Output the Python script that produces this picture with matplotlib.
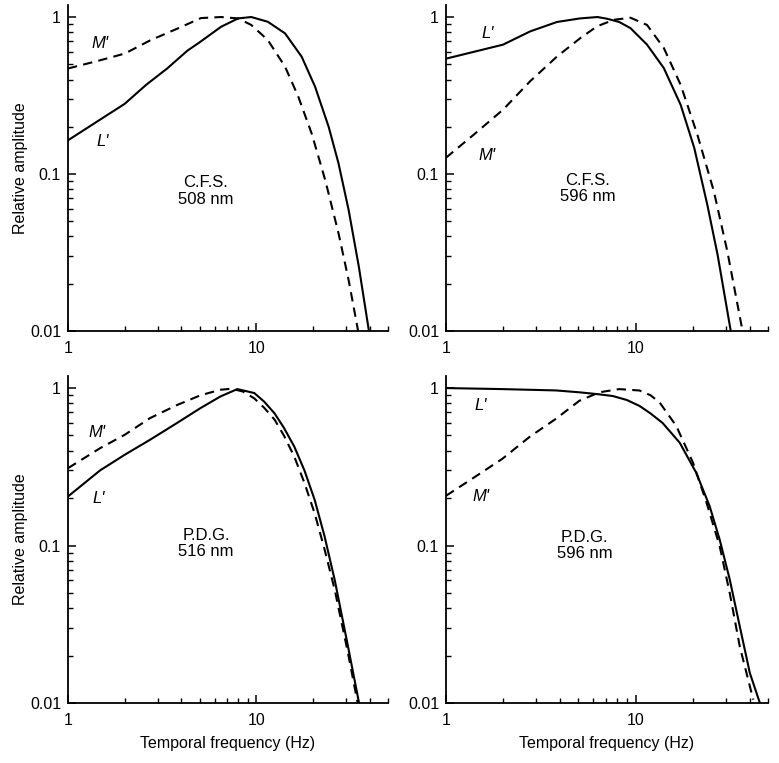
import matplotlib.pyplot as plt
from matplotlib.ticker import LogLocator, NullFormatter, FixedLocator, FixedFormatter

plt.rcParams['font.family'] = ['Liberation Sans', 'DejaVu Sans']

# panel 1: C.F.S. 508 nm
f1_L = [1, 2, 2.6, 3.36, 4.3, 5.08, 6.5, 8.0, 9.4, 11.5, 14.2, 17.4, 20.5, 24.2, 27.3, 30.9, 35, 39.6]
a1_L = [0.164, 0.28, 0.37, 0.47, 0.61, 0.70, 0.867, 0.98, 1.0, 0.933, 0.787, 0.559, 0.36, 0.2, 0.117, 0.059, 0.0257, 0.01]
f1_M = [1, 1.48, 2, 2.73, 3.95, 5.08, 6.5, 8.0, 9.4, 11.5, 14.2, 16.7, 19.7, 23.2, 27.3, 30.9, 34.7]
a1_M = [0.47, 0.53, 0.585, 0.71, 0.86, 0.985, 1.0, 0.98, 0.89, 0.714, 0.483, 0.311, 0.18, 0.0916, 0.042, 0.0211, 0.01]

# panel 2: C.F.S. 596 nm
f2_L = [1, 2, 2.78, 3.85, 5.1, 6.3, 7.08, 8.2, 9.4, 11.5, 14.1, 17.3, 20.4, 23.9, 27.1, 31.8]
a2_L = [0.543, 0.667, 0.81, 0.93, 0.98, 1.0, 0.975, 0.93, 0.85, 0.667, 0.473, 0.276, 0.147, 0.064, 0.0306, 0.01]
f2_M = [1, 1.4, 2, 2.78, 3.85, 5.12, 6.27, 7.68, 9.4, 11.5, 14.1, 17.3, 21.2, 25.9, 30.5, 36.7]
a2_M = [0.127, 0.178, 0.257, 0.39, 0.56, 0.735, 0.873, 0.96, 0.99, 0.89, 0.635, 0.37, 0.178, 0.0776, 0.0322, 0.01]

# panel 3: P.D.G. 516 nm
f3_L = [1, 1.48, 2, 2.73, 3.79, 5.05, 6.45, 7.93, 9.75, 11, 12.5, 14, 15.9, 18, 20.4, 23, 26.1, 30.7, 35.1]
a3_L = [0.205, 0.30, 0.377, 0.47, 0.60, 0.746, 0.885, 0.985, 0.93, 0.82, 0.69, 0.56, 0.425, 0.3, 0.195, 0.115, 0.06, 0.0227, 0.01]
f3_M = [1, 1.48, 2, 2.73, 3.79, 5.05, 6.45, 7.4, 8.5, 9.75, 11, 12.5, 14, 15.9, 18, 20.4, 23, 26.1, 30.7, 34.5]
a3_M = [0.31, 0.415, 0.505, 0.645, 0.78, 0.90, 0.976, 0.99, 0.95, 0.86, 0.75, 0.63, 0.5, 0.367, 0.25, 0.16, 0.095, 0.052, 0.0206, 0.01]

# panel 4: P.D.G. 596 nm
f4_L = [1, 1.98, 3.8, 5.05, 6.3, 7.59, 9, 10.5, 12, 13.9, 17.1, 20.9, 24.6, 27.8, 31.4, 35.5, 40.1, 45.3]
a4_L = [1.0, 0.985, 0.966, 0.94, 0.915, 0.89, 0.84, 0.77, 0.69, 0.60, 0.45, 0.29, 0.178, 0.109, 0.061, 0.0306, 0.0155, 0.01]
f4_M = [1, 1.37, 1.98, 2.75, 3.8, 5.05, 6.45, 8.2, 10.5, 12, 13.4, 16.4, 20.1, 23.7, 27.8, 31.4, 35.5, 41.8]
a4_M = [0.207, 0.265, 0.355, 0.488, 0.638, 0.83, 0.94, 0.985, 0.965, 0.9, 0.81, 0.575, 0.336, 0.187, 0.099, 0.05, 0.0228, 0.0105]

panels = [
    (f1_L, a1_L, f1_M, a1_M, 'C.F.S.\n508 nm', (5.4, 0.078), (1.48, 0.68), (1.52, 0.16)),
    (f2_L, a2_L, f2_M, a2_M, 'C.F.S.\n596 nm', (5.57, 0.081), (1.65, 0.132), (1.65, 0.79)),
    (f3_L, a3_L, f3_M, a3_M, 'P.D.G.\n516 nm', (5.4, 0.103), (1.43, 0.52), (1.45, 0.20)),
    (f4_L, a4_L, f4_M, a4_M, 'P.D.G.\n596 nm', (5.37, 0.100), (1.53, 0.205), (1.53, 0.77)),
]

W, H = 779, 763
fig = plt.figure(figsize=(W / 100, H / 100), dpi=100)

rects = [
    (68, 4.6, 320, 326.4),
    (446, 4.6, 322, 326.4),
    (68, 375.6, 320, 327.4),
    (446, 375.6, 322, 327.4),
]

for i, (fl, al, fm, am, txt, tpos, mpos, lpos) in enumerate(panels):
    x, y, w, h = rects[i]
    ax = fig.add_axes([x / W, 1 - (y + h) / H, w / W, h / H])
    ax.plot(fl, al, color='black', lw=1.5)
    ax.plot(fm, am, color='black', lw=1.5, dashes=(4.5, 3))
    ax.set_xscale('log')
    ax.set_yscale('log')
    ax.set_xlim(1, 50)
    ax.set_ylim(0.01, 1.2)

    for s in ['top', 'right']:
        ax.spines[s].set_visible(False)
    for s in ['left', 'bottom']:
        ax.spines[s].set_linewidth(1.3)

    ax.xaxis.set_major_locator(FixedLocator([1, 10]))
    ax.xaxis.set_major_formatter(FixedFormatter(['1', '10']))
    ax.xaxis.set_minor_locator(LogLocator(base=10, subs=range(2, 10)))
    ax.xaxis.set_minor_formatter(NullFormatter())
    ax.yaxis.set_major_locator(FixedLocator([0.01, 0.1, 1]))
    ax.yaxis.set_major_formatter(FixedFormatter(['0.01', '0.1', '1']))
    ax.yaxis.set_minor_locator(LogLocator(base=10, subs=range(2, 10)))
    ax.yaxis.set_minor_formatter(NullFormatter())

    ax.tick_params(which='major', direction='in', length=6, width=1.1, labelsize=11.5)
    ax.tick_params(which='minor', direction='in', length=3.5, width=1.0)
    ax.tick_params(axis='y', which='major', pad=5)
    ax.tick_params(axis='x', which='major', pad=7)

    ax.text(tpos[0], tpos[1], txt, ha='center', va='center', fontsize=12, linespacing=1.1)
    ax.text(mpos[0], mpos[1], "M'", ha='center', va='center', fontsize=12, style='italic')
    ax.text(lpos[0], lpos[1], "L'", ha='center', va='center', fontsize=12, style='italic')

    if i % 2 == 0:
        ax.set_ylabel('Relative amplitude', fontsize=11.5)
        ax.yaxis.set_label_coords(-0.125, 0.5)
    if i >= 2:
        ax.set_xlabel('Temporal frequency (Hz)', fontsize=11.5)
        ax.xaxis.set_label_coords(0.5, -0.101)

fig.savefig('out.png', dpi=100)
